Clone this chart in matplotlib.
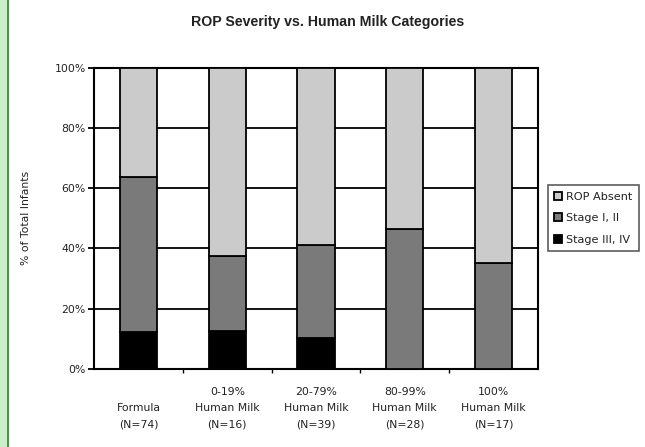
import matplotlib.pyplot as plt
import numpy as np
from matplotlib.patches import Rectangle

plt.rcParams['font.family'] = ['DejaVu Sans']

# percent of infants in each group, by ROP stage
categories = ["\nFormula\n(N=74)", "0-19%\nHuman Milk\n(N=16)", "20-79%\nHuman Milk\n(N=39)",
              "80-99%\nHuman Milk\n(N=28)", "100%\nHuman Milk\n(N=17)"]
stage_3_4 = [12.2, 12.5, 10.3, 0.0, 0.0]
stage_1_2 = [51.4, 25.0, 30.7, 46.4, 35.3]
rop_absent = [36.4, 62.5, 59.0, 53.6, 64.7]

series = [("Stage III, IV", stage_3_4, "#000000"),
          ("Stage I, II", stage_1_2, "#7a7a7a"),
          ("ROP Absent", rop_absent, "#cbcbcb")]

fig = plt.figure(figsize=(6.45, 4.47), dpi=100)
ax = fig.add_axes([0.146, 0.175, 0.688, 0.673])

x = np.arange(len(categories))
bottom = np.zeros(len(categories))
handles = []
for label, vals, color in series:
    b = ax.bar(x, vals, width=0.42, bottom=bottom, color=color,
               edgecolor="black", linewidth=1.3, label=label, zorder=3)
    handles.append(b)
    bottom += np.array(vals)

ax.set_xlim(-0.5, len(categories) - 0.5)
ax.set_ylim(0, 100)
ax.set_yticks(np.arange(0, 101, 20))
ax.set_yticklabels([f"{v}%" for v in range(0, 101, 20)], fontsize=7.8, color="#222222")
ax.yaxis.grid(True, color="black", linewidth=1.3, zorder=0)
ax.set_axisbelow(True)

# boundary ticks between groups, labels centred under each bar
ax.set_xticks(np.arange(0.5, len(categories) - 0.5, 1.0))
ax.set_xticklabels([])
ax.set_xticks(x, minor=True)
ax.set_xticklabels(categories, minor=True, fontsize=7.8, linespacing=1.8, color="#222222")
ax.tick_params(axis="x", which="minor", length=0, pad=13)
ax.tick_params(axis="x", which="major", length=3, width=1.0, direction="out")
ax.tick_params(axis="y", length=4, width=1.3, pad=2)

for s in ax.spines.values():
    s.set_linewidth(1.5)
    s.set_color("black")

ax.set_ylabel("% of Total Infants", fontsize=7.8, labelpad=17, color="#222222")
ax.set_title("ROP Severity vs. Human Milk Categories", fontsize=10.2, x=0.525,
             fontweight="bold", family="Liberation Sans", pad=30, color="#222222")

leg = ax.legend(handles=handles[::-1], loc="center left", bbox_to_anchor=(1.022, 0.5),
                fontsize=8.1, frameon=True, fancybox=False, edgecolor="#333333",
                handlelength=0.7, handleheight=0.7, handletextpad=0.3,
                borderpad=0.6, labelspacing=1.0, borderaxespad=0)
leg.get_frame().set_linewidth(1.2)
for t in leg.get_texts():
    t.set_color("#222222")

# green frame strip on the left edge
fig.patches.append(Rectangle((0, 0), 0.011, 1, transform=fig.transFigure,
                             facecolor="#c8efc8", edgecolor="none", zorder=0))
fig.patches.append(Rectangle((0.011, 0), 0.0025, 1, transform=fig.transFigure,
                             facecolor="#4f8f4f", edgecolor="none", zorder=0))

fig.savefig("out.png", dpi=100)
